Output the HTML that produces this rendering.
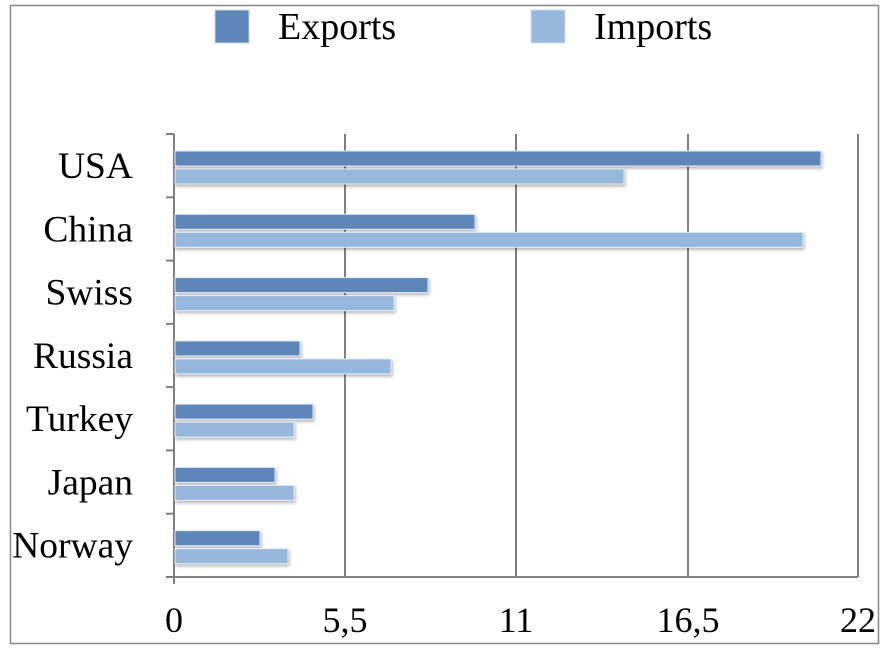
<!DOCTYPE html>
<html><head><meta charset="utf-8"><style>html,body{margin:0;padding:0;background:#fff}svg{display:block}</style></head>
<body>
<svg width="888" height="653" xmlns="http://www.w3.org/2000/svg" font-family="Liberation Serif, serif" font-size="36">
<defs>
<filter id="sh" x="-5%" y="-30%" width="110%" height="180%"><feDropShadow dx="1" dy="2" stdDeviation="1.5" flood-color="#000" flood-opacity="0.3"/></filter>
</defs>
<rect x="10.5" y="5.5" width="868" height="638" fill="#fff" stroke="#888" stroke-width="1.5"/>
<rect x="215" y="10" width="34" height="33" fill="#5f86b9" stroke="#c8d4e6" stroke-width="1"/>
<text x="278" y="39" font-size="38">Exports</text>
<rect x="531" y="10" width="34" height="33" fill="#95b8dc" stroke="#d0dcea" stroke-width="1"/>
<text x="594" y="39" font-size="38">Imports</text>
<g stroke="#808080" stroke-width="2">
<line x1="345" y1="134" x2="345" y2="577"/>
<line x1="516" y1="134" x2="516" y2="577"/>
<line x1="688" y1="134" x2="688" y2="577"/>
<line x1="858" y1="134" x2="858" y2="577"/>
<line x1="174" y1="134" x2="174" y2="584"/>
<line x1="166" y1="577" x2="858" y2="577"/>
<line x1="166" y1="134" x2="174" y2="134"/>
<line x1="166" y1="197.3" x2="174" y2="197.3"/>
<line x1="166" y1="260.6" x2="174" y2="260.6"/>
<line x1="166" y1="323.9" x2="174" y2="323.9"/>
<line x1="166" y1="387.1" x2="174" y2="387.1"/>
<line x1="166" y1="450.4" x2="174" y2="450.4"/>
<line x1="166" y1="513.7" x2="174" y2="513.7"/>
</g>
<g filter="url(#sh)" stroke="#e4ecf6" stroke-width="1">
<rect x="175" y="151" width="646" height="15" fill="#5f86b9"/>
<rect x="175" y="169" width="449" height="15" fill="#95b8dc"/>
<rect x="175" y="214.3" width="300" height="15" fill="#5f86b9"/>
<rect x="175" y="232.3" width="628" height="15" fill="#95b8dc"/>
<rect x="175" y="277.6" width="253" height="15" fill="#5f86b9"/>
<rect x="175" y="295.6" width="219" height="15" fill="#95b8dc"/>
<rect x="175" y="340.9" width="125" height="15" fill="#5f86b9"/>
<rect x="175" y="358.9" width="216" height="15" fill="#95b8dc"/>
<rect x="175" y="404.1" width="138" height="15" fill="#5f86b9"/>
<rect x="175" y="422.1" width="119" height="15" fill="#95b8dc"/>
<rect x="175" y="467.4" width="100" height="15" fill="#5f86b9"/>
<rect x="175" y="485.4" width="119" height="15" fill="#95b8dc"/>
<rect x="175" y="530.7" width="85" height="15" fill="#5f86b9"/>
<rect x="175" y="548.7" width="113" height="15" fill="#95b8dc"/>
</g>
<g text-anchor="end" font-size="37.5">
<text x="133" y="178">USA</text>
<text x="133" y="241.3">China</text>
<text x="133" y="304.6">Swiss</text>
<text x="133" y="367.9">Russia</text>
<text x="133" y="431.1">Turkey</text>
<text x="133" y="494.4">Japan</text>
<text x="133" y="557.7">Norway</text>
</g>
<g text-anchor="middle">
<text x="174" y="632">0</text>
<text x="345" y="632">5,5</text>
<text x="516" y="632">11</text>
<text x="688" y="632">16,5</text>
<text x="858" y="632">22</text>
</g>
</svg>
</body></html>
